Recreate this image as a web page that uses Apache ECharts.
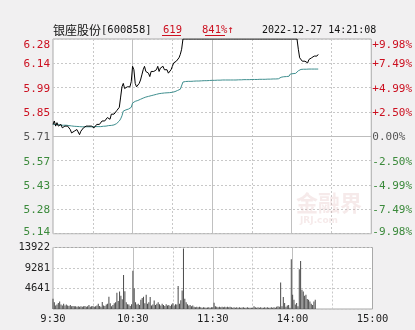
<!DOCTYPE html>
<html><head><meta charset="utf-8">
<script src="https://cdn.jsdelivr.net/npm/echarts@6/dist/echarts.min.js"></script>
<style>html,body{margin:0;padding:0;background:#f1f0f1;}#c{width:415px;height:330px;}</style>
</head><body><div id="c"></div>
<script>
// ---- data ----
const prevClose = 5.71;
const priceStep = 0.1425;
const priceTicks = ['5.14','5.28','5.43','5.57','5.71','5.85','5.99','6.14','6.28'];
const pctTicks = ['-9.98%','-7.49%','-4.99%','-2.50%','0.00%','+2.50%','+4.99%','+7.49%','+9.98%'];
const volMax = 13922;
const volTicks = ['', '4641', '9281', '13922'];
const xTickLabels = ['9:30','10:30','11:30','14:00','15:00'];

const prices = [
5.78,5.80,5.77,5.79,5.77,5.76,5.78,5.76,5.75,5.77,
5.78,5.77,5.76,5.75,5.73,5.74,5.74,5.73,5.75,5.74,
5.72,5.74,5.75,5.76,5.76,5.77,5.76,5.77,5.76,5.77,
5.77,5.76,5.77,5.78,5.77,5.78,5.78,5.80,5.81,5.80,
5.80,5.82,5.82,5.81,5.84,5.85,5.84,5.84,5.86,5.87,
5.88,5.94,6.00,6.02,5.99,5.99,6.00,5.99,6.00,6.03,
6.12,6.10,6.02,6.00,5.99,6.02,6.04,6.07,6.10,6.12,
6.09,6.10,6.08,6.06,6.09,6.10,6.09,6.10,6.10,6.12,
6.09,6.11,6.12,6.12,6.10,6.09,6.10,6.08,6.09,6.10,
6.12,6.14,6.15,6.15,6.16,6.17,6.19,6.22,6.28,6.28,
6.28,6.28,6.28,6.28,6.28,6.28,6.28,6.28,6.28,6.28,
6.28,6.28,6.28,6.28,6.28,6.28,6.28,6.28,6.28,6.28,
6.28,6.28,6.28,6.28,6.28,6.28,6.28,6.28,6.28,6.28,
6.28,6.28,6.28,6.28,6.28,6.28,6.28,6.28,6.28,6.28,
6.28,6.28,6.28,6.28,6.28,6.28,6.28,6.28,6.28,6.28,
6.28,6.28,6.28,6.28,6.28,6.28,6.28,6.28,6.28,6.28,
6.28,6.28,6.28,6.28,6.28,6.28,6.28,6.28,6.28,6.28,
6.28,6.28,6.28,6.28,6.28,6.28,6.28,6.28,6.28,6.28,
6.28,6.28,6.28,6.28,6.28,6.22,6.17,6.16,6.15,6.14,
6.15,6.14,6.14,6.16,6.17,6.17,6.16,6.18,6.19,6.18,
6.19
];

const avgPrices = [
5.780,5.780,5.780,5.780,5.780,5.775,5.775,5.775,5.775,5.775,
5.775,5.775,5.773,5.772,5.771,5.770,5.769,5.768,5.768,5.767,
5.767,5.766,5.766,5.766,5.766,5.766,5.766,5.766,5.766,5.766,
5.766,5.766,5.767,5.767,5.767,5.767,5.767,5.768,5.769,5.769,
5.770,5.771,5.773,5.773,5.774,5.776,5.777,5.778,5.785,5.792,
5.800,5.812,5.830,5.858,5.862,5.865,5.868,5.870,5.873,5.880,
5.905,5.912,5.915,5.917,5.920,5.924,5.927,5.930,5.934,5.937,
5.940,5.942,5.944,5.946,5.948,5.950,5.952,5.954,5.956,5.958,
5.960,5.961,5.962,5.963,5.964,5.965,5.965,5.966,5.966,5.967,
5.968,5.970,5.972,5.975,5.979,5.983,5.986,5.990,6.028,6.030,
6.031,6.031,6.032,6.032,6.032,6.033,6.033,6.033,6.034,6.034,
6.034,6.035,6.035,6.035,6.036,6.036,6.036,6.037,6.037,6.037,
6.038,6.038,6.038,6.038,6.039,6.039,6.039,6.039,6.040,6.040,
6.040,6.040,6.040,6.040,6.040,6.040,6.040,6.040,6.040,6.040,
6.041,6.041,6.041,6.042,6.042,6.042,6.042,6.042,6.042,6.042,
6.043,6.043,6.043,6.043,6.043,6.043,6.044,6.044,6.044,6.044,
6.044,6.045,6.045,6.045,6.045,6.045,6.046,6.046,6.046,6.047,
6.047,6.052,6.056,6.058,6.059,6.060,6.060,6.061,6.062,6.075,
6.076,6.077,6.078,6.079,6.080,6.094,6.101,6.102,6.102,6.103,
6.103,6.103,6.103,6.104,6.104,6.104,6.104,6.104,6.104,6.104,
6.104
];

const volumes = [
2300,1500,800,1000,1350,1700,1000,800,1200,800,
1000,800,700,900,600,700,600,600,500,600,
500,600,500,600,700,500,600,900,500,600,
700,500,600,800,1200,700,500,1600,800,700,
1000,1200,2800,1300,600,900,1300,1500,3700,1800,
3950,3000,2200,7700,4000,1500,1100,1000,700,1100,
8670,4700,1500,1000,1200,900,2100,2500,2800,1300,
3200,1200,1500,2700,800,1000,1900,900,1200,1500,
1100,800,1200,900,700,1100,800,900,700,1000,
1300,800,1100,1000,5230,1200,2000,4180,13700,2300,
1500,1100,800,900,600,800,500,400,500,400,
500,400,300,400,350,300,350,400,300,400,
400,1400,600,500,400,500,400,500,400,500,
400,500,400,500,400,300,400,300,400,300,
400,300,350,400,300,300,400,300,300,300,
300,600,400,300,400,300,400,300,300,400,
300,400,300,300,400,300,400,300,500,600,
500,6000,600,2700,1350,500,800,900,300,11290,
3200,2100,1000,1350,600,8980,10840,4330,3950,3000,
3200,2250,2100,1700,1200,900,1700,2100
];

// categories: trading minutes 9:30..11:30, 13:01..15:00
const times = [];
function pad(n){return (n<10?'0':'')+n;}
for (let m = 0; m <= 120; m++) { const t = 9*60+30+m; times.push(Math.floor(t/60)+':'+pad(t%60)); }
for (let m = 1; m <= 120; m++) { const t = 13*60+m; times.push(Math.floor(t/60)+':'+pad(t%60)); }

// ---- chart ----
const RED = '#cc1020', GREEN = '#3b8a3b', GRAY = '#555555';
const MONO = 'DejaVu Sans Mono';
const FS = 11;
const toSteps = p => +((p - prevClose) / priceStep).toFixed(5);

const chart = echarts.init(document.getElementById('c'), null, {renderer: 'canvas'});
const dashed = {show: true, lineStyle: {color: '#c8c8c8', type: [2, 2], width: 1}};
const solidV = {show: true, lineStyle: {color: '#c0c0c0', type: 'solid', width: 1}};
const every30 = (i) => i % 30 === 0 && i !== 0 && i !== 240;
const every60 = (i) => i % 60 === 0 && i !== 0 && i !== 240;

function lbl(i, arr){
  let k = i > 4 ? 'r' : (i < 4 ? 'g' : 'n');
  if (i === 8) k = 'rt';
  if (i === 0) k = 'gb';
  return '{' + k + '|' + arr[i] + '}';
}
const base = {fontFamily: MONO, fontSize: FS};
const rich = {
  r: Object.assign({color: RED, padding: [2, 0, 0, 0]}, base),
  rt: Object.assign({color: RED, padding: [12, 0, 0, 0]}, base),
  g: Object.assign({color: GREEN, padding: [2, 0, 0, 0]}, base),
  gb: Object.assign({color: GREEN, padding: [0, 0, 4, 0]}, base),
  n: Object.assign({color: GRAY, padding: [2, 0, 0, 0]}, base)
};

chart.setOption({
  animation: false,
  backgroundColor: '#f1f0f1',
  grid: [
    {left: 53, right: 42.5, top: 39, height: 194.7, show: true, backgroundColor: '#ffffff', borderColor: '#a9a9a9', borderWidth: 1},
    {left: 53, right: 42.5, top: 247.5, height: 61.5, show: true, backgroundColor: '#ffffff', borderColor: '#a9a9a9', borderWidth: 1}
  ],
  xAxis: [
    {type: 'category', gridIndex: 0, data: times, boundaryGap: false, axisLine: {show: false}, axisTick: {show: false}, axisLabel: {show: false},
     splitLine: Object.assign({interval: (i) => every30(i)}, dashed)},
    {type: 'category', gridIndex: 0, data: times, boundaryGap: false, position: 'top', axisLine: {show: false}, axisTick: {show: false}, axisLabel: {show: false},
     splitLine: Object.assign({interval: (i) => every60(i)}, solidV)},
    {type: 'category', gridIndex: 1, data: times, boundaryGap: false, axisLine: {show: false}, axisTick: {show: false},
     axisLabel: {show: true, interval: 0, margin: 5, color: '#222', fontFamily: MONO, fontSize: 10.5,
       formatter: (v) => xTickLabels.indexOf(v) >= 0 ? v : ''},
     splitLine: Object.assign({interval: (i) => every30(i)}, dashed)},
    {type: 'category', gridIndex: 1, data: times, boundaryGap: false, position: 'top', axisLine: {show: false}, axisTick: {show: false}, axisLabel: {show: false},
     splitLine: Object.assign({interval: (i) => every60(i)}, solidV)}
  ],
  yAxis: [
    {type: 'value', gridIndex: 0, min: -4, max: 4, interval: 1, axisLine: {show: false}, axisTick: {show: false},
     axisLabel: {margin: 3, formatter: (v) => lbl(Math.round(v) + 4, priceTicks), rich: rich},
     splitLine: dashed},
    {type: 'value', gridIndex: 0, position: 'right', min: -4, max: 4, interval: 1, axisLine: {show: false}, axisTick: {show: false},
     axisLabel: {margin: 1, formatter: (v) => lbl(Math.round(v) + 4, pctTicks), rich: rich},
     splitLine: {show: false}},
    {type: 'value', gridIndex: 1, min: 0, max: volMax, interval: volMax / 3, axisLine: {show: false}, axisTick: {show: false},
     axisLabel: {margin: 3, color: '#222', fontFamily: MONO, fontSize: 10.5, padding: [2, 0, 0, 0],
       formatter: (v) => volTicks[Math.round(v / (volMax / 3))] || ''},
     splitLine: dashed}
  ],
  series: [
    {type: 'line', xAxisIndex: 0, yAxisIndex: 0, data: avgPrices.map(toSteps), symbol: 'none',
     lineStyle: {color: '#3f8f8f', width: 1}, silent: true,
     markLine: {silent: true, symbol: 'none', label: {show: false}, lineStyle: {color: '#bdbdbd', type: 'solid', width: 1}, data: [{yAxis: 0}]}},
    {type: 'line', xAxisIndex: 0, yAxisIndex: 0, data: prices.map(toSteps), symbol: 'none',
     lineStyle: {color: '#000000', width: 1}, silent: true},
    {type: 'bar', xAxisIndex: 2, yAxisIndex: 2, data: volumes, barWidth: 1, itemStyle: {color: '#4a4a4a'}, silent: true}
  ],
  graphic: [
    {type: 'text', left: 296, top: 192, z: 1, style: {text: '金融界', fill: 'rgba(215,160,160,0.22)', font: 'bold 22px "Noto Sans CJK SC"'}},
    {type: 'text', left: 300, top: 216, z: 1, style: {text: 'JRJ.com', fill: 'rgba(215,160,160,0.22)', font: 'bold 9px "DejaVu Sans"'}},
    {type: 'text', left: 53, top: 24, style: {text: '银座股份', fill: '#111', font: '12px "Noto Sans CJK SC"'}},
    {type: 'text', left: 101, top: 25, style: {text: '[600858]', fill: '#111', font: '10.5px "DejaVu Sans Mono"'}},
    {type: 'text', left: 163, top: 25, style: {text: '619', fill: RED, font: '10.5px "DejaVu Sans Mono"'}},
    {type: 'line', shape: {x1: 162, y1: 35.5, x2: 181, y2: 35.5}, style: {stroke: RED, lineWidth: 1}},
    {type: 'text', left: 202, top: 25, style: {text: '841%↑', fill: RED, font: '10.5px "DejaVu Sans Mono"'}},
    {type: 'line', shape: {x1: 205, y1: 35.5, x2: 225, y2: 35.5}, style: {stroke: RED, lineWidth: 1}},
    {type: 'text', left: 262, top: 25, style: {text: '2022-12-27 14:21:08', fill: '#111', font: '10px "DejaVu Sans Mono"'}}
  ]
});
</script></body></html>
